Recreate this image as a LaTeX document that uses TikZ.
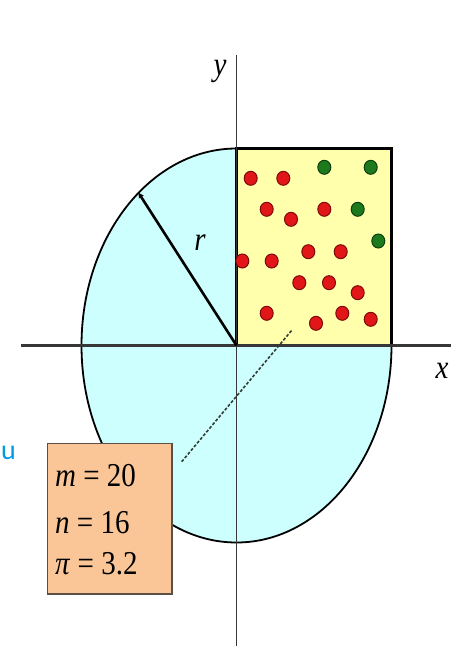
\documentclass[tikz,border=0pt]{standalone}
\usepackage{graphicx}
\usepackage{fontspec}
\setmainfont{Liberation Serif}
\newfontfamily\labsans{Carlito}
\usetikzlibrary{arrows.meta,shapes.geometric}
\definecolor{discfill}{RGB}{206,255,255}
\definecolor{sqfill}{RGB}{255,255,172}
\definecolor{boxfill}{RGB}{250,198,152}
\definecolor{boxrim}{RGB}{90,80,70}
\definecolor{redpt}{RGB}{226,22,22}
\definecolor{redrim}{RGB}{125,10,10}
\definecolor{grnpt}{RGB}{28,122,28}
\definecolor{grnrim}{RGB}{12,62,12}
\definecolor{ublue}{RGB}{0,155,225}
\definecolor{axisgray}{RGB}{55,55,55}
\definecolor{dashgray}{RGB}{50,62,52}
\begin{document}
\begin{tikzpicture}[x=1pt,y=-1pt,
  lab/.style={font=\fontsize{29}{30}\selectfont, inner sep=0pt},
  dotbase/.style={ellipse, minimum width=13pt, minimum height=14pt, inner sep=0pt, line width=1pt},
  reddot/.style={dotbase, fill=redpt, draw=redrim},
  grndot/.style={dotbase, fill=grnpt, draw=grnrim},
  axisline/.style={draw=axisgray},
  guideline/.style={draw=dashgray, line width=1.6pt, dash pattern=on 3pt off 1.8pt},
]
\useasboundingbox (0,0) rectangle (465,669);
\fill[white] (0,0) rectangle (465,669);

\coordinate (O) at (236.5,345.5);
% disc
\filldraw[fill=discfill, draw=black, line width=1.8pt] (O) ellipse [x radius=155pt, y radius=197pt];
% square
\filldraw[fill=sqfill, draw=black, line width=2.6pt] (236.5,148.5) rectangle (391.5,345.5);

% axes
\coordinate (xa1) at (21,345.5);
\coordinate (xa2) at (451,345.5);
\coordinate (ya1) at (236.5,55);
\coordinate (ya2) at (236.5,646);
\draw[axisline, line width=1.4pt] (ya1) -- (ya2);
\draw[axisline, line width=2.8pt] (xa1) -- (xa2);

% radius
\coordinate (R) at (138,192);
\draw[line width=2.6pt, -{Latex[length=6pt,width=6pt]}] (O) -- (R);

% points
\node[reddot] (p1) at (250.7,178.3) {};
\node[reddot] (p2) at (283.3,178.3) {};
\node[reddot] (p3) at (266.7,209.3) {};
\node[reddot] (p4) at (291,219.3) {};
\node[reddot] (p5) at (324.3,209.3) {};
\node[reddot] (p6) at (308.3,251.7) {};
\node[reddot] (p7) at (340.7,251.7) {};
\node[reddot] (p8) at (242.3,261) {};
\node[reddot] (p9) at (271.7,261) {};
\node[reddot] (p10) at (299.3,282.7) {};
\node[reddot] (p11) at (329,282.7) {};
\node[reddot] (p12) at (357.7,292.7) {};
\node[reddot] (p13) at (266.7,313.3) {};
\node[reddot] (p14) at (316,323.3) {};
\node[reddot] (p15) at (342.3,313.3) {};
\node[reddot] (p16) at (370.7,319.3) {};
\node[grndot] (g1) at (324.3,167.3) {};
\node[grndot] (g2) at (370.7,167.3) {};
\node[grndot] (g3) at (357.7,209.3) {};
\node[grndot] (g4) at (378.3,241) {};

% dashed guide
\coordinate (d1) at (181.7,461.7);
\coordinate (d2) at (292,330);
\draw[guideline] (d1) -- (d2);

% info box
\node[draw=boxrim, fill=boxfill, line width=1.5pt, minimum width=124.5pt, minimum height=150.5pt, inner sep=0pt] (box) at (109.5,518.7) {};
\node[lab, anchor=base west] (tm) at (55,486) {\scalebox{1}[1.15]{\textit{m} = 20}};
\node[lab, anchor=base west] (tn) at (55,533) {\scalebox{1}[1.15]{\textit{n} = 16}};
\node[lab, anchor=base west] (tp) at (55,574.6) {\scalebox{1}[1.15]{\textit{π} = 3.2}};

% labels
\node[lab] (ly) at (220,71) {\scalebox{1}[1.15]{\textit{y}}};
\node[lab] (lx) at (442,371) {\scalebox{1}[1.15]{\textit{x}}};
\node[lab] (lr) at (200,243) {\scalebox{1}[1.15]{\textit{r}}};

% stray blue letter at the left edge
\node[inner sep=0pt, anchor=base west, text=ublue, font=\labsans\fontsize{28}{30}\selectfont] (lu) at (1,459) {u};
\end{tikzpicture}
\end{document}
